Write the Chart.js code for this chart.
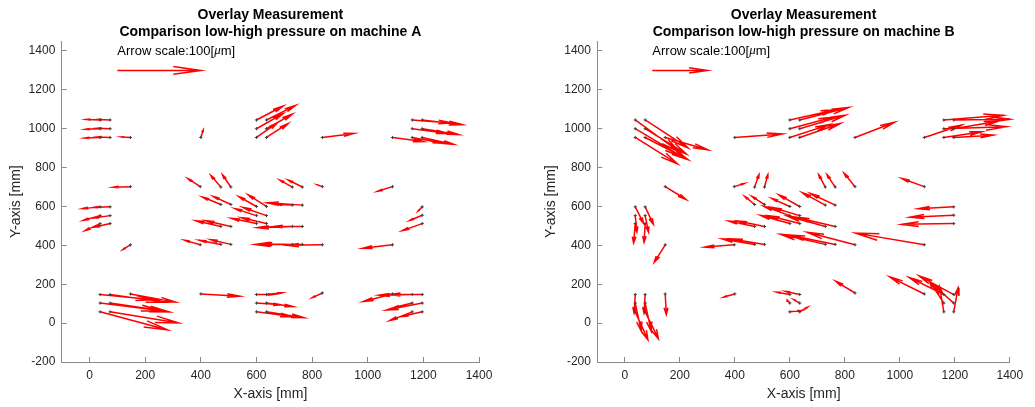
<!DOCTYPE html>
<html>
<head>
<meta charset="utf-8">
<script src="https://cdn.jsdelivr.net/npm/chart.js@4/dist/chart.umd.min.js"></script>
<style>
  html, body { margin: 0; padding: 0; background: #fff; }
  #wrap { position: relative; width: 1035px; height: 407px; }
  canvas { position: absolute; top: 0; }
</style>
</head>
<body>
<div id="wrap">
  <canvas id="chartA" width="517" height="407" style="left:0px"></canvas>
  <canvas id="chartB" width="518" height="407" style="left:517px"></canvas>
</div>
<script>
// Measurement positions [mm]
const posX = [38,74,38,74,38,74,147,400,600,636,600,636,600,636,837,1089,1160,1196,1160,1196,1160,1196,
  147,38,74,38,74,38,74,147,398,472,508,729,765,837,1089,472,508,600,636,729,765,600,636,600,636,472,508,729,765,398,472,508,729,765,837,1089,1196,1196,1196,
  38,74,147,38,74,38,74,400,600,636,600,636,600,636,837,1089,1160,1196,1160,1196,1160,1196];
const posY = [1045,1045,1000,1000,955,955,955,955,1045,1045,1000,1000,955,955,955,955,1045,1045,1000,1000,955,955,
  702,598,598,553,553,512,512,403,702,700,700,700,700,702,702,610,610,600,600,607,607,553,553,512,512,497,497,497,497,403,405,405,405,405,403,403,598,555,512,
  147,147,150,103,103,58,58,150,147,147,103,103,58,58,155,150,147,147,103,103,58,58];

// Overlay shift low vs high pressure [um], machine A
const dxA = [-17,-15,-18,-15,-19,-15,-11,3,32,35,32,31,25,26,38,37,47,48,43,44,37,38,
  -21,-21,-21,-20,-20,-18,-18,-9,-15,-12,-10,-15,-17,-6,-18,-22,-21,-21,-22,-18,-42,-26,-28,-30,-30,-30,-30,-42,-35,-19,-26,-24,-36,-57,-42,-36,-5,-15,-24,
  64,65,54,74,71,81,82,47,20,19,30,32,43,45,-12,-35,-40,-39,-23,-43,-27,-25];
const dyA = [1,1,-1,1,-1,1,1,13,24,25,26,25,25,24,7,-7,-5,-8,-8,-10,-10,-12,
  -1,-3,-1,-8,-4,-12,-6,-8,14,20,21,12,12,3,-8,13,14,17,20,1,4,12,14,9,10,10,10,-2,0,8,7,8,1,0,-1,-6,-7,-9,-12,
  -9,-13,-14,-13,-15,-31,-19,-4,0,3,-3,-6,-8,-10,-8,-13,-1,0,-8,-12,-15,-8];

// Overlay shift low vs high pressure [um], machine B
const dxB = [81,78,89,75,77,78,78,87,86,89,80,83,72,74,72,68,108,102,114,83,70,72,
  38,15,15,3,6,-3,-2,-20,18,8,6,-12,-15,-20,-41,-18,-23,-33,-38,-42,-45,-47,-50,-53,-56,-47,-48,-69,-72,-54,-59,-60,-81,-84,-87,-125,-65,-80,-95,
  -2,-2,2,11,11,23,24,-20,-24,-26,-5,-11,20,14,-35,-63,-63,-63,-26,-38,-8,8];
const dyB = [-83,-72,-75,-65,-68,-57,-32,9,27,32,30,35,33,36,39,32,12,2,5,20,15,6,
  -33,-42,-45,-42,-42,-50,-48,-45,8,32,32,32,32,35,21,21,21,21,30,32,30,24,21,21,20,14,14,27,24,-6,14,14,26,24,32,30,-5,-5,-2,
  -48,-48,-53,-72,-72,-72,-69,-8,6,8,8,9,3,12,30,44,44,48,56,48,66,62];

// Arrow length per um, in mm on the plot
const arrowScaleA = 3;
const arrowScaleB = 2;

// Reference arrow
const refX = [100];
const refY = [1300];
const refLen = [100];
const noteY = [1400];

const xTicks = [0, 200, 400, 600, 800, 1000, 1200, 1400];
const yTicks = [-200, 0, 200, 400, 600, 800, 1000, 1200, 1400];

Chart.defaults.font.family = "'Liberation Sans', Arial, Helvetica, sans-serif";

// quiver-style arrow: shaft plus two head strokes, in data units
function arrowPoints(x, y, u, v) {
  const a = 0.33, b = 0.2;
  const tx = x + u, ty = y + v;
  return [
    {x: x, y: y}, {x: tx, y: ty}, {x: null, y: null},
    {x: tx - a * (u + b * v), y: ty - a * (v - b * u)},
    {x: tx, y: ty},
    {x: tx - a * (u - b * v), y: ty - a * (v + b * u)},
    {x: null, y: null}
  ];
}

const scaleNote = {
  id: 'scaleNote',
  afterDatasetsDraw(chart) {
    const {ctx, scales: {x, y}} = chart;
    const px = x.getPixelForValue(refX[0]);
    const py = y.getPixelForValue(noteY[0]);
    ctx.save();
    ctx.fillStyle = '#000';
    ctx.textAlign = 'left';
    ctx.textBaseline = 'middle';
    const f = "'Liberation Sans', Arial, sans-serif";
    const t1 = 'Arrow scale:' + refLen[0] + '[';
    ctx.font = '13px ' + f;
    ctx.fillText(t1, px, py);
    let w = ctx.measureText(t1).width;
    ctx.font = "italic 13px 'Liberation Serif', serif";
    ctx.fillText('\u03bc', px + w, py);
    w += ctx.measureText('\u03bc').width;
    ctx.font = '13px ' + f;
    ctx.fillText('m]', px + w, py);
    ctx.restore();
  }
};

function makeChart(id, machine, dx, dy, k, padL, padR) {
  const arrows = [];
  for (let i = 0; i < posX.length; i++) {
    arrows.push(...arrowPoints(posX[i], posY[i], dx[i] * k, dy[i] * k));
  }
  const ref = arrowPoints(refX[0], refY[0], refLen[0] * k, 0);
  const tails = posX.map((x, i) => ({x: x, y: posY[i]}));
  const axisColor = '#8a8a8a';
  const textColor = '#262626';

  new Chart(document.getElementById(id), {
    type: 'scatter',
    data: {
      datasets: [
        { data: tails, showLine: false, pointStyle: 'cross', pointRadius: 1.6,
          borderColor: '#404040', backgroundColor: '#404040', borderWidth: 1 },
        { data: arrows, showLine: true, spanGaps: false, pointRadius: 0,
          borderColor: '#ff0000', borderWidth: 1.5, borderJoinStyle: 'miter', fill: false, clip: false },
        { data: ref, showLine: true, spanGaps: false, pointRadius: 0,
          borderColor: '#ff0000', borderWidth: 1.5, borderJoinStyle: 'miter', fill: false, clip: false }
      ]
    },
    options: {
      responsive: false,
      animation: false,
      devicePixelRatio: 1,
      events: [],
      layout: { padding: { left: padL, right: padR, top: 0, bottom: 0 } },
      plugins: {
        legend: { display: false },
        tooltip: { enabled: false },
        title: {
          display: true,
          fullSize: false,
          text: ['Overlay Measurement', 'Comparison low-high pressure on machine ' + machine],
          color: '#000',
          font: { size: 14, weight: 'bold', lineHeight: 1.25 },
          padding: { top: 6.25, bottom: 0 }
        }
      },
      scales: {
        x: {
          type: 'linear', position: 'bottom', min: -100, max: 1400,
          afterBuildTicks: s => { s.ticks = xTicks.map(v => ({value: v})); },
          afterFit: s => { s.height = 45; },
          border: { display: true, color: axisColor, width: 1 },
          grid: { drawOnChartArea: false, drawTicks: true, tickLength: -5, tickColor: axisColor, tickWidth: 1 },
          ticks: { color: textColor, font: { size: 12 }, padding: 11.8, maxRotation: 0, autoSkip: false,
                   callback: v => String(v) },
          title: { display: true, text: 'X-axis [mm]', color: textColor, font: { size: 14 },
                   padding: { top: 0, bottom: 4.3 } }
        },
        y: {
          type: 'linear', position: 'left', min: -200, max: 1450,
          afterBuildTicks: s => { s.ticks = yTicks.map(v => ({value: v})); },
          afterFit: s => { s.width = 61.7; },
          border: { display: true, color: axisColor, width: 1 },
          grid: { drawOnChartArea: false, drawTicks: true, tickLength: -5, tickColor: axisColor, tickWidth: 1 },
          ticks: { color: textColor, font: { size: 12 }, padding: 11.4, autoSkip: false,
                   callback: v => String(v) },
          title: { display: true, text: 'Y-axis [mm]', color: textColor, font: { size: 14 },
                   padding: { top: 7.6, bottom: 0 } }
        }
      }
    },
    plugins: [scaleNote]
  });
}

makeChart('chartA', 'A', dxA, dyA, arrowScaleA, 0, 38);
makeChart('chartB', 'B', dxB, dyB, arrowScaleB, 18.6, 20);
</script>
</body>
</html>
